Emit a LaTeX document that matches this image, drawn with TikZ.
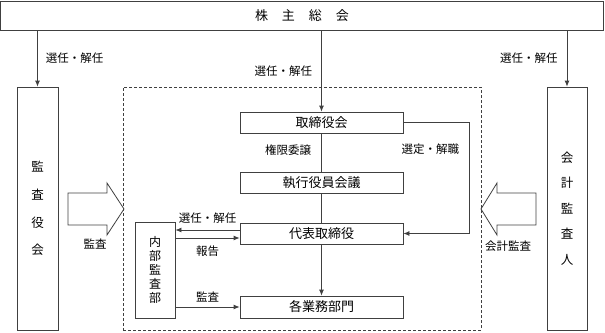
\documentclass[tikz,border=0pt]{standalone}
\usepackage{fontspec}
\setmainfont{Noto Sans CJK JP}
\usetikzlibrary{arrows.meta, positioning}

\begin{document}
\begin{tikzpicture}[x=1pt, y=-1pt, line width=0.8pt, draw=black!75,
    >={Latex[length=6pt, width=5pt]},
    box/.style={draw=black!75, rectangle, inner sep=0pt, font=\fontsize{13}{15}\selectfont},
    lbl/.style={inner sep=2pt, font=\fontsize{11.5}{13}\selectfont}]
    \useasboundingbox (0,0) rectangle (605,332);

    \node (Shareholders) [box, minimum width=603, minimum height=29] at (302,15.5) {株\hspace{14pt}主\hspace{14pt}総\hspace{14pt}会};
    \node (AuditBoard) [box, minimum width=41, minimum height=243, align=center, font=\fontsize{12.5}{27.7}\selectfont] at (37.5,208.5) {監\\査\\役\\会};
    \node (Auditor) [box, minimum width=40, minimum height=243, align=center, font=\fontsize{12.5}{25.5}\selectfont] at (567,208.5) {会\\計\\監\\査\\人};
    \node (Company) [draw=black!75, dashed, dash pattern=on 3pt off 2pt, line width=0.7pt, minimum width=358, minimum height=243] at (302,208.5) {};

    \node (Board) [box, minimum width=163, minimum height=21] at (321.5,122.5) {取締役会};
    \node (ExecCommittee) [box, minimum width=163, minimum height=21] at (321.5,182.5) {執行役員会議};
    \node (RepDirector) [box, minimum width=163, minimum height=21] at (321.5,233.5) {代表取締役};
    \node (Divisions) [box, minimum width=163, minimum height=22] at (321.5,307) {各業務部門};
    \node (InternalAudit) [box, minimum width=40, minimum height=96, align=center, font=\fontsize{12}{14}\selectfont] at (155,270) {内\\部\\監\\査\\部};

    % appointment by shareholders
    \draw[->] (Shareholders.south -| AuditBoard.north) -- (AuditBoard.north) node[lbl, midway, right=6pt] {選任・解任};
    \draw[->] (Shareholders.south -| Board.north) -- (Board.north) node[lbl, midway, left=7pt] {選任・解任};
    \draw[->] (Shareholders.south -| Auditor.north) -- (Auditor.north) node[lbl, midway, left=7pt] {選任・解任};

    \draw (Board) -- (ExecCommittee) node[lbl, pos=0.45, left=8pt] {権限委譲};
    \draw (ExecCommittee) -- (RepDirector);
    \draw[->] (RepDirector) -- (Divisions);
    \draw[->] (Board.east) -- ++(66,0) |- (RepDirector.east) node[lbl, pos=0.12, left=8pt] {選定・解職};

    % internal audit
    \coordinate (ApptStart) at ([yshift=3.5pt]RepDirector.west);
    \coordinate (ReportEnd) at ([yshift=-4.5pt]RepDirector.west);
    \draw[->] (ApptStart) -- (ApptStart -| InternalAudit.east) node[lbl, midway, above=4pt] {選任・解任};
    \draw[->] (ReportEnd -| InternalAudit.east) -- (ReportEnd) node[lbl, midway, below=5pt] {報告};
    \draw[->] (Divisions.west -| InternalAudit.east) -- (Divisions.west) node[lbl, midway, above=2pt] {監査};

    % audit block arrows
    \draw (68,193) -- (107,193) -- (107,183) -- (124,209) -- (107,235) -- (107,225) -- (68,225) -- cycle;
    \node (AuditText) [lbl] at (95,244) {監査};
    \draw (536,193) -- (497,193) -- (497,183) -- (481,209) -- (497,235) -- (497,225) -- (536,225) -- cycle;
    \node (AccountingText) [lbl] at (508,246) {会計監査};
\end{tikzpicture}
\end{document}
